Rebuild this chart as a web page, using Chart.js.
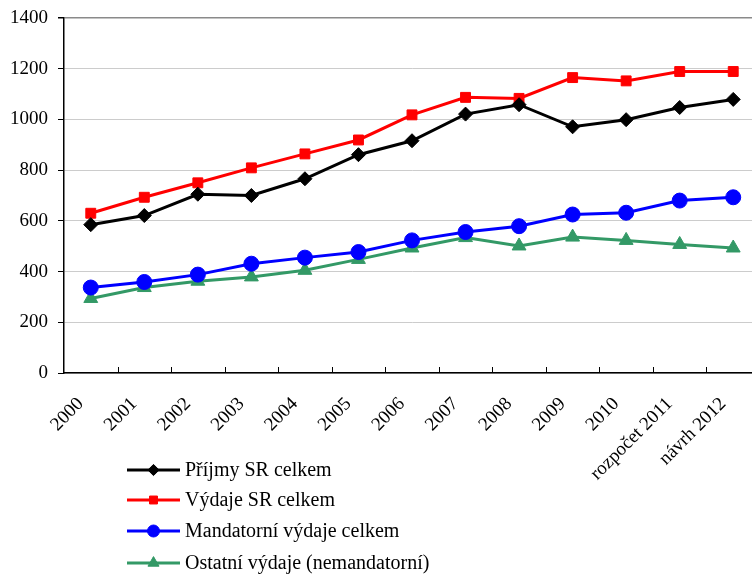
<!DOCTYPE html>
<html>
<head>
<meta charset="utf-8">
<script src="https://cdn.jsdelivr.net/npm/chart.js@4/dist/chart.umd.min.js"></script>
<style>
  html, body { margin: 0; padding: 0; background: #fff; }
  body { width: 752px; height: 575px; overflow: hidden; }
  canvas { display: block; }
</style>
</head>
<body>
<!-- plocha grafu pokračuje kousek za pravý okraj stránky -->
<canvas id="c" width="760" height="575"></canvas>
<script>
// Roky (kategorie osy x)
const years = ['2000', '2001', '2002', '2003', '2004', '2005', '2006', '2007', '2008', '2009', '2010', 'rozpočet 2011', 'návrh 2012'];

// Hodnoty jednotlivých řad
const prijmy     = [585, 621, 705, 700, 766, 861, 916, 1021, 1058, 971, 999, 1047, 1079];
const vydaje     = [630, 693, 750, 809, 864, 919, 1018, 1087, 1083, 1165, 1152, 1189, 1189];
const mandatorni = [337, 359, 388, 431, 455, 477, 523, 556, 579, 625, 632, 680, 693];
const ostatni    = [294, 337, 362, 379, 405, 448, 493, 534, 501, 536, 523, 507, 493];

// Popisky osy y
const yTicks = [0, 200, 400, 600, 800, 1000, 1200, 1400];

const seriesNames = ['Příjmy SR celkem', 'Výdaje SR celkem', 'Mandatorní výdaje celkem', 'Ostatní výdaje (nemandatorní)'];

const FONT = '"Liberation Serif", "Times New Roman", serif';

function series(label, data, color, style, radius) {
  return {
    label, data,
    borderColor: color,
    backgroundColor: color,
    pointBackgroundColor: color,
    pointBorderColor: color,
    pointStyle: style,
    pointRadius: radius,
    pointHoverRadius: radius,
    pointBorderWidth: 1,
    borderWidth: 3,
    tension: 0,
    fill: false,
    clip: false
  };
}

// Malé značky na ose x mezi kategoriemi (směřují dovnitř grafu)
const innerXTicks = {
  id: 'innerXTicks',
  afterDraw(chart) {
    const x = chart.scales.x, area = chart.chartArea, ctx = chart.ctx;
    const step = x.getPixelForValue(1) - x.getPixelForValue(0);
    ctx.save();
    ctx.strokeStyle = '#000';
    ctx.lineWidth = 1;
    for (let i = 0; i < years.length; i++) {
      const bx = Math.round(x.getPixelForValue(i) + step / 2) + 0.5;
      ctx.beginPath();
      ctx.moveTo(bx, area.bottom - 6);
      ctx.lineTo(bx, area.bottom);
      ctx.stroke();
    }
    ctx.restore();
  }
};

// Legenda pod grafem: čára se značkou a popisek
const lineLegend = {
  id: 'lineLegend',
  afterDraw(chart) {
    const ctx = chart.ctx;
    const x0 = 127, x1 = 180, tx = 185;
    const rows = [470, 500, 531, 563];
    ctx.save();
    chart.data.datasets.forEach((ds, i) => {
      const y = rows[i];
      ctx.strokeStyle = ds.borderColor;
      ctx.fillStyle = ds.borderColor;
      ctx.lineWidth = 3;
      ctx.beginPath();
      ctx.moveTo(x0, y);
      ctx.lineTo(x1, y);
      ctx.stroke();
      ctx.lineWidth = 1;
      Chart.helpers.drawPoint(ctx, {
        pointStyle: ds.pointStyle,
        radius: ds.pointRadius * 0.8,
        rotation: 0,
        borderWidth: 1
      }, (x0 + x1) / 2, y);
      ctx.fillStyle = '#000';
      ctx.font = '20px ' + FONT;
      ctx.textAlign = 'left';
      ctx.textBaseline = 'middle';
      ctx.fillText(ds.label, tx, y + 1);
    });
    ctx.restore();
  }
};

new Chart(document.getElementById('c'), {
  type: 'line',
  data: {
    labels: years,
    datasets: [
      series(seriesNames[0], prijmy, '#000000', 'rectRot', 7),
      series(seriesNames[1], vydaje, '#ff0000', 'rect', 7),
      series(seriesNames[2], mandatorni, '#0000ff', 'circle', 7.5),
      series(seriesNames[3], ostatni, '#339966', 'triangle', 8)
    ]
  },
  options: {
    responsive: false,
    animation: false,
    layout: {
      autoPadding: false,
      padding: { top: 18, right: 0, left: 0, bottom: 0 }
    },
    plugins: {
      legend: { display: false },
      tooltip: { enabled: false }
    },
    scales: {
      x: {
        type: 'category',
        offset: true,
        afterFit(scale) {
          scale.height = 202;
          scale.paddingLeft = 0;
          scale.paddingRight = 0;
        },
        grid: { display: false },
        border: { display: true, color: '#000', width: 1.5 },
        ticks: {
          autoSkip: false,
          minRotation: 45,
          maxRotation: 45,
          labelOffset: -10,
          padding: 12,
          color: '#000',
          font: { family: FONT, size: 19 }
        }
      },
      y: {
        min: 0,
        max: 1400,
        afterFit(scale) {
          scale.width = 64;
          scale.paddingTop = 0;
          scale.paddingBottom = 0;
        },
        afterBuildTicks(scale) { scale.ticks = yTicks.map(v => ({ value: v })); },
        grid: {
          color: (c) => c.tick && c.tick.value === 1400 ? '#8a8a8a' : '#cccccc',
          lineWidth: (c) => c.tick && c.tick.value === 1400 ? 1.5 : 1,
          tickColor: '#000',
          tickLength: 6
        },
        border: { display: true, color: '#000', width: 1.5 },
        ticks: {
          padding: 10,
          color: '#000',
          font: { family: FONT, size: 19 },
          callback: (v) => String(v)
        }
      }
    }
  },
  plugins: [innerXTicks, lineLegend]
});
</script>
</body>
</html>
